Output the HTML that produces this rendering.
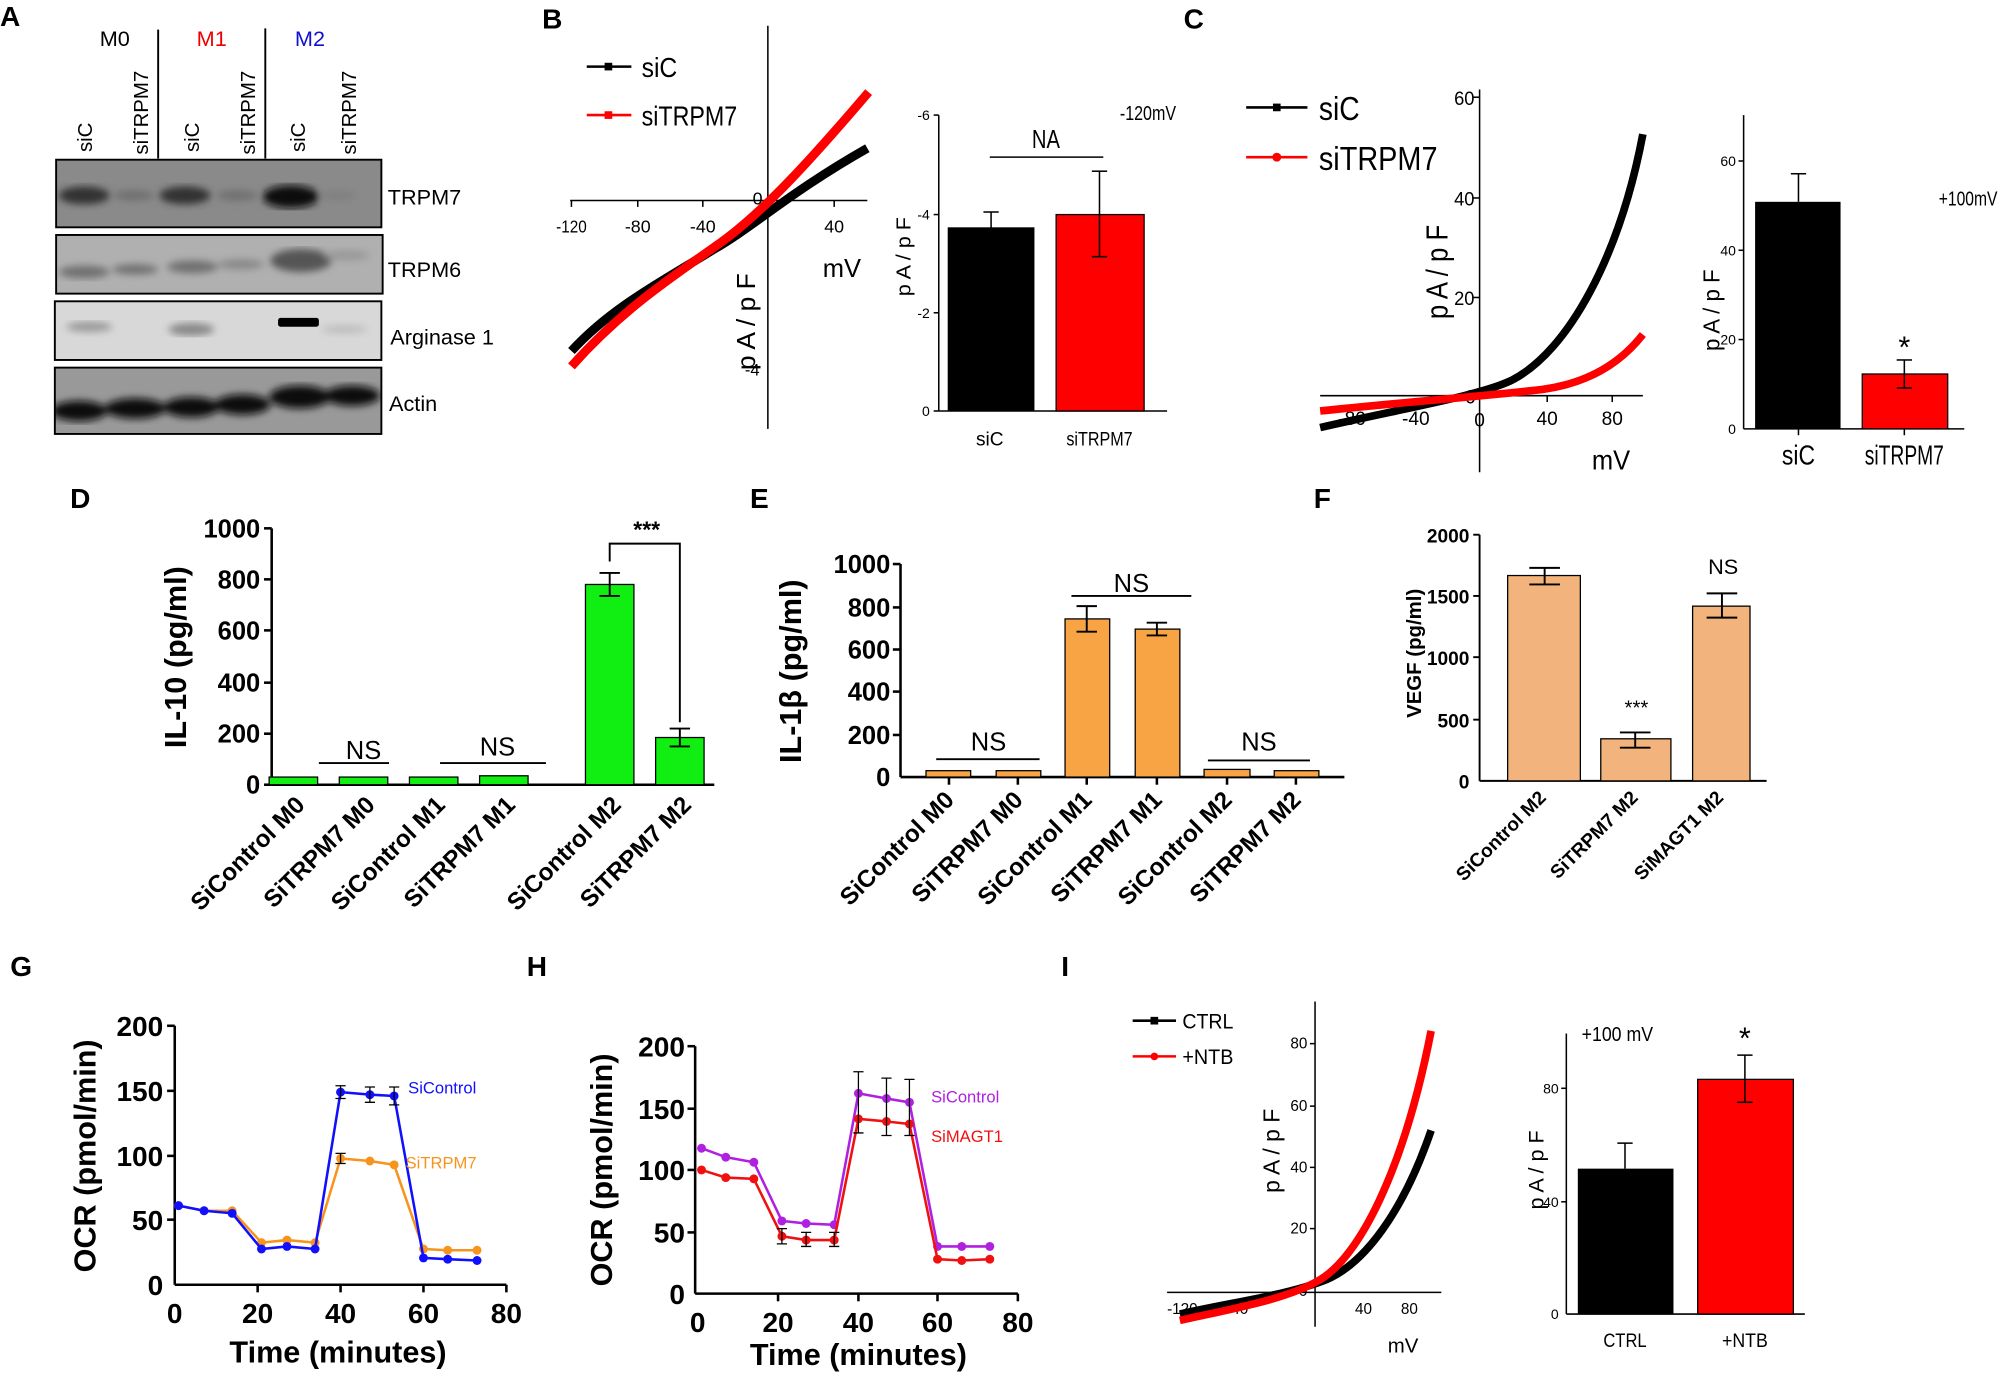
<!DOCTYPE html>
<html><head><meta charset="utf-8"><style>
html,body{margin:0;padding:0;background:#fff;}
svg{display:block;}
text{font-family:"Liberation Sans",Arial,sans-serif;}
.pl{font-size:22px;font-weight:bold;}
.b{font-weight:bold;}
</style></head><body>
<svg width="2000" height="1373" viewBox="0 0 1568 1076" xmlns="http://www.w3.org/2000/svg">
<rect width="1568" height="1076" fill="#fff"/>
<defs>
<filter id="bl"><feGaussianBlur stdDeviation="3"/></filter>
<clipPath id="c1"><rect x="44" y="125" width="255" height="53"/></clipPath>
<clipPath id="c2"><rect x="44" y="184" width="256" height="46"/></clipPath>
<clipPath id="c3"><rect x="43" y="236" width="256" height="46"/></clipPath>
<clipPath id="c4"><rect x="43" y="288" width="256" height="52"/></clipPath>
</defs>
<!-- Panel labels -->
<text class="pl" x="0" y="20">A</text>
<text class="pl" x="425" y="22">B</text>
<text class="pl" x="928" y="22">C</text>
<text class="pl" x="55" y="398">D</text>
<text class="pl" x="588" y="398">E</text>
<text class="pl" x="1030" y="398">F</text>
<text class="pl" x="8" y="765">G</text>
<text class="pl" x="413" y="765">H</text>
<text class="pl" x="832" y="765">I</text>

<!-- Panel A -->
<text x="90" y="36" font-size="17" text-anchor="middle">M0</text>
<text x="166" y="36" font-size="17" text-anchor="middle" fill="#e00">M1</text>
<text x="243" y="36" font-size="17" text-anchor="middle" fill="#1010d0">M2</text>
<line x1="124" y1="23" x2="124" y2="124" stroke="#000" stroke-width="1.5"/>
<line x1="208" y1="22" x2="208" y2="124" stroke="#000" stroke-width="1.5"/>
<g font-size="16">
<text transform="translate(72,119) rotate(-90)">siC</text>
<text transform="translate(116,121) rotate(-90)">siTRPM7</text>
<text transform="translate(156,119) rotate(-90)">siC</text>
<text transform="translate(200,121) rotate(-90)">siTRPM7</text>
<text transform="translate(239,119) rotate(-90)">siC</text>
<text transform="translate(279,121) rotate(-90)">siTRPM7</text>
</g>
<rect x="44" y="125" width="255" height="53" fill="#8a8a8a"/>
<g filter="url(#bl)" fill="#303030" clip-path="url(#c1)">
<ellipse cx="66" cy="153" rx="20" ry="7"/><ellipse cx="145" cy="153" rx="20" ry="7"/><ellipse cx="228" cy="154" rx="22" ry="9" fill="#111"/>
<ellipse cx="105" cy="153" rx="16" ry="4" fill="#707070"/><ellipse cx="186" cy="153" rx="16" ry="4" fill="#707070"/><ellipse cx="265" cy="153" rx="14" ry="4" fill="#808080"/>
</g>
<rect x="44" y="125" width="255" height="53" fill="none" stroke="#000" stroke-width="1.5"/>
<rect x="44" y="184" width="256" height="46" fill="#b0b0b0"/>
<g filter="url(#bl)" fill="#707070" clip-path="url(#c2)">
<ellipse cx="66" cy="213" rx="20" ry="5"/><ellipse cx="106" cy="211" rx="18" ry="4"/><ellipse cx="151" cy="209" rx="20" ry="5"/><ellipse cx="189" cy="207" rx="18" ry="4" fill="#888"/><ellipse cx="236" cy="204" rx="24" ry="9" fill="#555"/><ellipse cx="272" cy="200" rx="18" ry="4" fill="#999"/>
</g>
<rect x="44" y="184" width="256" height="46" fill="none" stroke="#000" stroke-width="1.5"/>
<rect x="43" y="236" width="256" height="46" fill="#d8d8d8"/>
<g filter="url(#bl)" fill="#999" clip-path="url(#c3)">
<ellipse cx="70" cy="256" rx="18" ry="4"/><ellipse cx="150" cy="258" rx="18" ry="5" fill="#888"/><ellipse cx="270" cy="258" rx="18" ry="3" fill="#bbb"/>
</g>
<rect x="218" y="249" width="32" height="7" fill="#000" rx="2"/>
<rect x="43" y="236" width="256" height="46" fill="none" stroke="#000" stroke-width="1.5"/>
<rect x="43" y="288" width="256" height="52" fill="#999"/>
<g filter="url(#bl)" fill="#111" clip-path="url(#c4)">
<ellipse cx="62" cy="322" rx="22" ry="8"/><ellipse cx="106" cy="320" rx="24" ry="8"/><ellipse cx="150" cy="319" rx="22" ry="8"/><ellipse cx="190" cy="317" rx="22" ry="8"/><ellipse cx="235" cy="311" rx="24" ry="9"/><ellipse cx="276" cy="310" rx="22" ry="8"/>
</g>
<rect x="43" y="288" width="256" height="52" fill="none" stroke="#000" stroke-width="1.5"/>
<g font-size="17">
<text x="304" y="160">TRPM7</text><text x="304" y="217">TRPM6</text><text x="306" y="270">Arginase 1</text><text x="305" y="322">Actin</text>
</g>

<!-- Panel B IV -->
<g stroke="#000" stroke-width="1.2" fill="none">
<line x1="447" y1="157" x2="680" y2="157"/><line x1="602" y1="20" x2="602" y2="336"/>
<line x1="448" y1="157" x2="448" y2="162"/><line x1="500" y1="157" x2="500" y2="162"/><line x1="551" y1="157" x2="551" y2="162"/><line x1="654" y1="157" x2="654" y2="162"/>
</g>
<g font-size="14" text-anchor="middle">
<text x="448" y="182" textLength="24" lengthAdjust="spacingAndGlyphs">-120</text><text x="500" y="182">-80</text><text x="551" y="182">-40</text><text x="594" y="160">0</text><text x="654" y="182">40</text>
</g>
<text x="584" y="294" font-size="13">-4</text>
<text x="645" y="217" font-size="20">mV</text>
<text transform="translate(592,290) rotate(-90)" font-size="20" textLength="76" lengthAdjust="spacingAndGlyphs">p A / p F</text>
<path d="M448,275 C480,240 520,220 560,195 C590,178 620,150 680,116" stroke="#000" stroke-width="7" fill="none"/>
<path d="M448,287 C490,240 530,215 565,190 C600,165 640,120 681,72" stroke="#f00" stroke-width="7" fill="none"/>
<line x1="460" y1="52" x2="495" y2="52" stroke="#000" stroke-width="2"/><rect x="474" y="49" width="6" height="6"/>
<text x="503" y="60" font-size="22" textLength="28" lengthAdjust="spacingAndGlyphs">siC</text>
<line x1="460" y1="90" x2="495" y2="90" stroke="#f00" stroke-width="2"/><rect x="474" y="87" width="6" height="6" fill="#f00"/>
<text x="503" y="98" font-size="22" textLength="75" lengthAdjust="spacingAndGlyphs">siTRPM7</text>
<!-- B bar -->
<g stroke="#000" stroke-width="1.2">
<line x1="736" y1="90" x2="736" y2="322"/><line x1="736" y1="322" x2="915" y2="322"/>
<line x1="732" y1="90" x2="736" y2="90"/><line x1="732" y1="168" x2="736" y2="168"/><line x1="732" y1="245" x2="736" y2="245"/><line x1="732" y1="322" x2="736" y2="322"/>
</g>
<g font-size="11" text-anchor="end"><text x="729" y="94">-6</text><text x="729" y="172">-4</text><text x="729" y="249">-2</text><text x="729" y="326">0</text></g>
<text transform="translate(714,232) rotate(-90)" font-size="16" textLength="62" lengthAdjust="spacingAndGlyphs">p A / p F</text>
<rect x="743" y="178" width="68" height="144" fill="#000"/>
<rect x="828" y="168" width="69" height="154" fill="#f00" stroke="#000"/>
<g stroke="#000" stroke-width="1.2"><line x1="777" y1="166" x2="777" y2="190"/><line x1="771" y1="166" x2="783" y2="166"/>
<line x1="862" y1="134" x2="862" y2="201"/><line x1="856" y1="134" x2="868" y2="134"/><line x1="856" y1="201" x2="868" y2="201"/>
<line x1="776" y1="123" x2="865" y2="123"/></g>
<text x="820" y="116" font-size="20" text-anchor="middle" textLength="22" lengthAdjust="spacingAndGlyphs">NA</text>
<text x="878" y="94" font-size="16" textLength="44" lengthAdjust="spacingAndGlyphs">-120mV</text>
<text x="776" y="349" font-size="15" text-anchor="middle">siC</text>
<text x="862" y="349" font-size="15" text-anchor="middle" textLength="52" lengthAdjust="spacingAndGlyphs">siTRPM7</text>

<!-- Panel C IV -->
<g stroke="#000" stroke-width="1.2">
<line x1="1035" y1="310" x2="1288" y2="310"/><line x1="1160" y1="70" x2="1160" y2="370"/>
<line x1="1155" y1="76" x2="1160" y2="76"/><line x1="1155" y1="155" x2="1160" y2="155"/><line x1="1155" y1="233" x2="1160" y2="233"/>
<line x1="1213" y1="310" x2="1213" y2="315"/><line x1="1264" y1="310" x2="1264" y2="315"/>
</g>
<g font-size="15" text-anchor="end"><text x="1156" y="82" textLength="16" lengthAdjust="spacingAndGlyphs">60</text><text x="1156" y="161" textLength="16" lengthAdjust="spacingAndGlyphs">40</text><text x="1156" y="239" textLength="16" lengthAdjust="spacingAndGlyphs">20</text><text x="1157" y="316">0</text></g>
<g font-size="15" text-anchor="middle"><text x="1213" y="333">40</text><text x="1264" y="333">80</text><text x="1160" y="334">0</text><text x="1060" y="333">-80</text><text x="1110" y="333">-40</text></g>
<text x="1248" y="368" font-size="22" textLength="30" lengthAdjust="spacingAndGlyphs">mV</text>
<text transform="translate(1135,250) rotate(-90)" font-size="24" textLength="74" lengthAdjust="spacingAndGlyphs">p A / p F</text>
<path d="M1035,335 C1100,320 1160,310 1185,298 C1230,275 1270,200 1288,105" stroke="#000" stroke-width="6" fill="none"/>
<path d="M1035,322 C1100,315 1170,310 1210,305 C1245,300 1270,285 1288,262" stroke="#f00" stroke-width="6" fill="none"/>
<line x1="977" y1="84" x2="1025" y2="84" stroke="#000" stroke-width="2"/><rect x="998" y="81" width="6" height="6"/>
<text x="1034" y="94" font-size="26" textLength="32" lengthAdjust="spacingAndGlyphs">siC</text>
<line x1="977" y1="123" x2="1025" y2="123" stroke="#f00" stroke-width="2"/><circle cx="1001" cy="123" r="3.5" fill="#f00"/>
<text x="1034" y="133" font-size="26" textLength="93" lengthAdjust="spacingAndGlyphs">siTRPM7</text>
<!-- C bar -->
<g stroke="#000" stroke-width="1.2">
<line x1="1367" y1="90" x2="1367" y2="336"/><line x1="1367" y1="336" x2="1540" y2="336"/>
<line x1="1363" y1="126" x2="1367" y2="126"/><line x1="1363" y1="196" x2="1367" y2="196"/><line x1="1363" y1="266" x2="1367" y2="266"/>
<line x1="1410" y1="336" x2="1410" y2="341"/><line x1="1493" y1="336" x2="1493" y2="341"/>
</g>
<g font-size="11" text-anchor="end"><text x="1361" y="130">60</text><text x="1361" y="200">40</text><text x="1361" y="270">20</text><text x="1361" y="340">0</text></g>
<text transform="translate(1348,275) rotate(-90)" font-size="18" textLength="64" lengthAdjust="spacingAndGlyphs">p A / p F</text>
<rect x="1376" y="158" width="67" height="178" fill="#000"/>
<rect x="1460" y="293" width="67" height="43" fill="#f00" stroke="#000"/>
<g stroke="#000" stroke-width="1.2"><line x1="1410" y1="136" x2="1410" y2="158"/><line x1="1404" y1="136" x2="1416" y2="136"/>
<line x1="1493" y1="282" x2="1493" y2="304"/><line x1="1487" y1="282" x2="1499" y2="282"/><line x1="1487" y1="304" x2="1499" y2="304"/></g>
<text x="1493" y="280" font-size="24" text-anchor="middle">*</text>
<text x="1520" y="161" font-size="16" textLength="46" lengthAdjust="spacingAndGlyphs">+100mV</text>
<text x="1410" y="364" font-size="22" text-anchor="middle" textLength="26" lengthAdjust="spacingAndGlyphs">siC</text>
<text x="1493" y="364" font-size="22" text-anchor="middle" textLength="62" lengthAdjust="spacingAndGlyphs">siTRPM7</text>

<!-- Panel D -->
<g stroke="#000" stroke-width="2">
<line x1="213" y1="414" x2="213" y2="615"/><line x1="213" y1="615" x2="560" y2="615"/>
<line x1="207" y1="414" x2="213" y2="414"/><line x1="207" y1="454" x2="213" y2="454"/><line x1="207" y1="494" x2="213" y2="494"/><line x1="207" y1="535" x2="213" y2="535"/><line x1="207" y1="575" x2="213" y2="575"/><line x1="207" y1="615" x2="213" y2="615"/>
</g>
<g font-size="20" class="b" text-anchor="end"><text x="204" y="421">1000</text><text x="204" y="461">800</text><text x="204" y="542">400</text><text x="204" y="501">600</text><text x="204" y="582">200</text><text x="204" y="622">0</text></g>
<text transform="translate(146,515) rotate(-90)" font-size="24" class="b" text-anchor="middle">IL-10 (pg/ml)</text>
<g fill="#11ee11" stroke="#000" stroke-width="1">
<rect x="211" y="609" width="38" height="6"/><rect x="266" y="609" width="38" height="6"/><rect x="321" y="609" width="38" height="6"/><rect x="376" y="608" width="38" height="7"/><rect x="459" y="458" width="38" height="157"/><rect x="514" y="578" width="38" height="37"/>
</g>
<g stroke="#000" stroke-width="1.5" fill="none">
<path d="M470,449 H486 M478,449 V467 M470,467 H486"/><path d="M525,571 H541 M533,571 V585 M525,585 H541"/>
<path d="M478,440 V426 H533 V566"/>
<line x1="250" y1="598" x2="305" y2="598"/><line x1="345" y1="598" x2="428" y2="598"/>
</g>
<text x="507" y="421" font-size="18" class="b" text-anchor="middle">***</text>
<text x="285" y="595" font-size="20" text-anchor="middle">NS</text>
<text x="390" y="592" font-size="20" text-anchor="middle">NS</text>
<g font-size="19" class="b" text-anchor="end">
<text transform="translate(240,632) rotate(-45)">SiControl M0</text>
<text transform="translate(295,632) rotate(-45)">SiTRPM7 M0</text>
<text transform="translate(350,632) rotate(-45)">SiControl M1</text>
<text transform="translate(405,632) rotate(-45)">SiTRPM7 M1</text>
<text transform="translate(488,632) rotate(-45)">SiControl M2</text>
<text transform="translate(543,632) rotate(-45)">SiTRPM7 M2</text>
</g>

<!-- Panel E -->
<g stroke="#000" stroke-width="2">
<line x1="706" y1="442" x2="706" y2="609"/><line x1="706" y1="609" x2="1054" y2="609"/>
<line x1="700" y1="442" x2="706" y2="442"/><line x1="700" y1="476" x2="706" y2="476"/><line x1="700" y1="509" x2="706" y2="509"/><line x1="700" y1="542" x2="706" y2="542"/><line x1="700" y1="576" x2="706" y2="576"/>
<line x1="744" y1="609" x2="744" y2="615"/><line x1="798" y1="609" x2="798" y2="615"/><line x1="852" y1="609" x2="852" y2="615"/><line x1="907" y1="609" x2="907" y2="615"/><line x1="962" y1="609" x2="962" y2="615"/><line x1="1016" y1="609" x2="1016" y2="615"/>
</g>
<g font-size="20" class="b" text-anchor="end"><text x="698" y="449">1000</text><text x="698" y="483">800</text><text x="698" y="516">600</text><text x="698" y="549">400</text><text x="698" y="583">200</text><text x="698" y="616">0</text></g>
<text transform="translate(628,526) rotate(-90)" font-size="24" class="b" text-anchor="middle">IL-1β (pg/ml)</text>
<g fill="#f8a444" stroke="#000" stroke-width="1">
<rect x="726" y="604" width="35" height="5"/><rect x="781" y="604" width="35" height="5"/><rect x="835" y="485" width="35" height="124"/><rect x="890" y="493" width="35" height="116"/><rect x="944" y="603" width="36" height="6"/><rect x="999" y="604" width="35" height="5"/>
</g>
<g stroke="#000" stroke-width="1.5" fill="none">
<path d="M844,475 H860 M852,475 V495 M844,495 H860"/><path d="M899,488 H915 M907,488 V498 M899,498 H915"/>
<line x1="840" y1="467" x2="934" y2="467"/><line x1="734" y1="595" x2="815" y2="595"/><line x1="947" y1="596" x2="1027" y2="596"/>
</g>
<text x="887" y="464" font-size="20" text-anchor="middle">NS</text>
<text x="775" y="588" font-size="20" text-anchor="middle">NS</text>
<text x="987" y="588" font-size="20" text-anchor="middle">NS</text>
<g font-size="19" class="b" text-anchor="end">
<text transform="translate(749,628) rotate(-45)">SiControl M0</text>
<text transform="translate(803,628) rotate(-45)">SiTRPM7 M0</text>
<text transform="translate(857,628) rotate(-45)">SiControl M1</text>
<text transform="translate(912,628) rotate(-45)">SiTRPM7 M1</text>
<text transform="translate(967,628) rotate(-45)">SiControl M2</text>
<text transform="translate(1021,628) rotate(-45)">SiTRPM7 M2</text>
</g>

<!-- Panel F -->
<g stroke="#000" stroke-width="1.5">
<line x1="1160" y1="419" x2="1160" y2="612"/><line x1="1160" y1="612" x2="1385" y2="612"/>
<line x1="1155" y1="419" x2="1160" y2="419"/><line x1="1155" y1="467" x2="1160" y2="467"/><line x1="1155" y1="515" x2="1160" y2="515"/><line x1="1155" y1="564" x2="1160" y2="564"/>
</g>
<g font-size="15" class="b" text-anchor="end"><text x="1152" y="425">2000</text><text x="1152" y="473">1500</text><text x="1152" y="521">1000</text><text x="1152" y="570">500</text><text x="1152" y="618">0</text></g>
<text transform="translate(1114,512) rotate(-90)" font-size="16" class="b" text-anchor="middle">VEGF (pg/ml)</text>
<g fill="#f2b47c" stroke="#000" stroke-width="1">
<rect x="1182" y="451" width="57" height="161"/><rect x="1255" y="579" width="55" height="33"/><rect x="1327" y="475" width="45" height="137"/>
</g>
<g stroke="#000" stroke-width="1.5" fill="none">
<path d="M1199,445 H1223 M1211,445 V458 M1199,458 H1223"/><path d="M1270,574 H1294 M1282,574 V586 M1270,586 H1294"/><path d="M1338,465 H1362 M1350,465 V484 M1338,484 H1362"/>
</g>
<text x="1283" y="560" font-size="16" text-anchor="middle">***</text>
<text x="1351" y="450" font-size="17" text-anchor="middle">NS</text>
<g font-size="15" class="b" text-anchor="end">
<text transform="translate(1213,626) rotate(-45)">SiControl M2</text>
<text transform="translate(1285,626) rotate(-45)">SiTRPM7 M2</text>
<text transform="translate(1352,626) rotate(-45)">SiMAGT1 M2</text>
</g>

<!-- Panel G -->
<g stroke="#000" stroke-width="2">
<line x1="137" y1="804" x2="137" y2="1007"/><line x1="137" y1="1007" x2="397" y2="1007"/>
<line x1="131" y1="804" x2="137" y2="804"/><line x1="131" y1="855" x2="137" y2="855"/><line x1="131" y1="906" x2="137" y2="906"/><line x1="131" y1="956" x2="137" y2="956"/>
<line x1="202" y1="1007" x2="202" y2="1013"/><line x1="267" y1="1007" x2="267" y2="1013"/><line x1="332" y1="1007" x2="332" y2="1013"/><line x1="397" y1="1007" x2="397" y2="1013"/>
</g>
<g font-size="22" class="b" text-anchor="end"><text x="128" y="812">200</text><text x="128" y="863">150</text><text x="128" y="914">100</text><text x="128" y="964">50</text><text x="128" y="1015">0</text></g>
<g font-size="22" class="b" text-anchor="middle"><text x="137" y="1037">0</text><text x="202" y="1037">20</text><text x="267" y="1037">40</text><text x="332" y="1037">60</text><text x="397" y="1037">80</text></g>
<text x="265" y="1068" font-size="24" class="b" text-anchor="middle">Time (minutes)</text>
<text transform="translate(75,906) rotate(-90)" font-size="24" class="b" text-anchor="middle">OCR (pmol/min)</text>
<polyline points="140,945 160,949 182,949 205,974 225,972 247,974 267,908 290,910 309,913 332,979 351,980 374,980" fill="none" stroke="#f7941d" stroke-width="2"/>
<g fill="#f7941d"><circle cx="140" cy="945" r="3.5"/><circle cx="160" cy="949" r="3.5"/><circle cx="182" cy="949" r="3.5"/><circle cx="205" cy="974" r="3.5"/><circle cx="225" cy="972" r="3.5"/><circle cx="247" cy="974" r="3.5"/><circle cx="267" cy="908" r="3.5"/><circle cx="290" cy="910" r="3.5"/><circle cx="309" cy="913" r="3.5"/><circle cx="332" cy="979" r="3.5"/><circle cx="351" cy="980" r="3.5"/><circle cx="374" cy="980" r="3.5"/></g>
<polyline points="140,945 160,949 182,951 205,979 225,977 247,979 267,856 290,858 309,859 332,986 351,987 374,988" fill="none" stroke="#1010ff" stroke-width="2"/>
<g fill="#1010ff"><circle cx="140" cy="945" r="3.5"/><circle cx="160" cy="949" r="3.5"/><circle cx="182" cy="951" r="3.5"/><circle cx="205" cy="979" r="3.5"/><circle cx="225" cy="977" r="3.5"/><circle cx="247" cy="979" r="3.5"/><circle cx="267" cy="856" r="3.5"/><circle cx="290" cy="858" r="3.5"/><circle cx="309" cy="859" r="3.5"/><circle cx="332" cy="986" r="3.5"/><circle cx="351" cy="987" r="3.5"/><circle cx="374" cy="988" r="3.5"/></g>
<g stroke="#000" stroke-width="1"><path d="M263,851 H271 M267,851 V861 M263,861 H271"/><path d="M286,852 H294 M290,852 V864 M286,864 H294"/><path d="M305,852 H313 M309,852 V866 M305,866 H313"/><path d="M263,904 H271 M267,904 V912 M263,912 H271"/></g>
<text x="320" y="857" font-size="13" fill="#1010ff">SiControl</text>
<text x="318" y="916" font-size="13" fill="#f7941d">SiTRPM7</text>

<!-- Panel H -->
<g stroke="#000" stroke-width="2">
<line x1="545" y1="820" x2="545" y2="1014"/><line x1="545" y1="1014" x2="798" y2="1014"/>
<line x1="539" y1="820" x2="545" y2="820"/><line x1="539" y1="869" x2="545" y2="869"/><line x1="539" y1="917" x2="545" y2="917"/><line x1="539" y1="966" x2="545" y2="966"/>
<line x1="610" y1="1014" x2="610" y2="1020"/><line x1="673" y1="1014" x2="673" y2="1020"/><line x1="735" y1="1014" x2="735" y2="1020"/><line x1="798" y1="1014" x2="798" y2="1020"/>
</g>
<g font-size="22" class="b" text-anchor="end"><text x="537" y="828">200</text><text x="537" y="877">150</text><text x="537" y="925">100</text><text x="537" y="974">50</text><text x="537" y="1022">0</text></g>
<g font-size="22" class="b" text-anchor="middle"><text x="547" y="1044">0</text><text x="610" y="1044">20</text><text x="673" y="1044">40</text><text x="735" y="1044">60</text><text x="798" y="1044">80</text></g>
<text x="673" y="1070" font-size="24" class="b" text-anchor="middle">Time (minutes)</text>
<text transform="translate(480,917) rotate(-90)" font-size="24" class="b" text-anchor="middle">OCR (pmol/min)</text>
<polyline points="550,900 569,907 591,911 613,957 632,959 654,960 673,857 695,861 713,864 735,977 754,977 776,977" fill="none" stroke="#b020e0" stroke-width="2"/>
<g fill="#b020e0"><circle cx="550" cy="900" r="3.5"/><circle cx="569" cy="907" r="3.5"/><circle cx="591" cy="911" r="3.5"/><circle cx="613" cy="957" r="3.5"/><circle cx="632" cy="959" r="3.5"/><circle cx="654" cy="960" r="3.5"/><circle cx="673" cy="857" r="3.5"/><circle cx="695" cy="861" r="3.5"/><circle cx="713" cy="864" r="3.5"/><circle cx="735" cy="977" r="3.5"/><circle cx="754" cy="977" r="3.5"/><circle cx="776" cy="977" r="3.5"/></g>
<polyline points="550,917 569,923 591,924 613,969 632,972 654,972 673,877 695,879 713,881 735,987 754,988 776,987" fill="none" stroke="#f01010" stroke-width="2"/>
<g fill="#f01010"><circle cx="550" cy="917" r="3.5"/><circle cx="569" cy="923" r="3.5"/><circle cx="591" cy="924" r="3.5"/><circle cx="613" cy="969" r="3.5"/><circle cx="632" cy="972" r="3.5"/><circle cx="654" cy="972" r="3.5"/><circle cx="673" cy="877" r="3.5"/><circle cx="695" cy="879" r="3.5"/><circle cx="713" cy="881" r="3.5"/><circle cx="735" cy="987" r="3.5"/><circle cx="754" cy="988" r="3.5"/><circle cx="776" cy="987" r="3.5"/></g>
<g stroke="#000" stroke-width="1"><path d="M669,840 H677 M673,840 V888 M669,888 H677"/><path d="M691,845 H699 M695,845 V890 M691,890 H699"/><path d="M709,846 H717 M713,846 V890 M709,890 H717"/><path d="M609,963 H617 M613,963 V975 M609,975 H617"/><path d="M628,966 H636 M632,966 V977 M628,977 H636"/><path d="M650,966 H658 M654,966 V977 M650,977 H658"/></g>
<text x="730" y="864" font-size="13" fill="#b020e0">SiControl</text>
<text x="730" y="895" font-size="13" fill="#f01010">SiMAGT1</text>

<!-- Panel I IV -->
<g stroke="#000" stroke-width="1.2">
<line x1="915" y1="1013" x2="1130" y2="1013"/><line x1="1031" y1="785" x2="1031" y2="1040"/>
<line x1="1027" y1="818" x2="1031" y2="818"/><line x1="1027" y1="867" x2="1031" y2="867"/><line x1="1027" y1="915" x2="1031" y2="915"/><line x1="1027" y1="963" x2="1031" y2="963"/>
</g>
<g font-size="12" text-anchor="end"><text x="1025" y="822">80</text><text x="1025" y="871">60</text><text x="1025" y="919">40</text><text x="1025" y="967">20</text><text x="1025" y="1016">0</text></g>
<g font-size="12" text-anchor="middle"><text x="1069" y="1030">40</text><text x="1105" y="1030">80</text><text x="927" y="1030">-120</text><text x="970" y="1030">-40</text></g>
<text x="1088" y="1060" font-size="16">mV</text>
<text transform="translate(1003,935) rotate(-90)" font-size="18" textLength="66" lengthAdjust="spacingAndGlyphs">p A / p F</text>
<path d="M925,1030 C970,1020 1010,1015 1040,1003 C1070,990 1100,950 1122,886" stroke="#000" stroke-width="6" fill="none"/>
<path d="M925,1035 C970,1025 1010,1018 1035,1003 C1065,985 1100,920 1122,808" stroke="#f00" stroke-width="6" fill="none"/>
<line x1="888" y1="800" x2="922" y2="800" stroke="#000" stroke-width="2"/><rect x="902" y="797" width="6" height="6"/>
<text x="927" y="806" font-size="17" textLength="40" lengthAdjust="spacingAndGlyphs">CTRL</text>
<line x1="888" y1="828" x2="922" y2="828" stroke="#f00" stroke-width="2"/><circle cx="905" cy="828" r="3" fill="#f00"/>
<text x="927" y="834" font-size="17" textLength="40" lengthAdjust="spacingAndGlyphs">+NTB</text>
<!-- I bar -->
<g stroke="#000" stroke-width="1.2">
<line x1="1228" y1="810" x2="1228" y2="1030"/><line x1="1228" y1="1030" x2="1415" y2="1030"/>
<line x1="1224" y1="853" x2="1228" y2="853"/><line x1="1224" y1="942" x2="1228" y2="942"/>
</g>
<g font-size="11" text-anchor="end"><text x="1222" y="857">80</text><text x="1222" y="946">40</text><text x="1222" y="1034">0</text></g>
<text transform="translate(1210,948) rotate(-90)" font-size="17" textLength="62" lengthAdjust="spacingAndGlyphs">p A / p F</text>
<rect x="1237" y="916" width="75" height="114" fill="#000"/>
<rect x="1331" y="846" width="75" height="184" fill="#f00" stroke="#000"/>
<g stroke="#000" stroke-width="1.2"><line x1="1274" y1="896" x2="1274" y2="916"/><line x1="1268" y1="896" x2="1280" y2="896"/>
<line x1="1368" y1="827" x2="1368" y2="864"/><line x1="1362" y1="827" x2="1374" y2="827"/><line x1="1362" y1="864" x2="1374" y2="864"/></g>
<text x="1368" y="822" font-size="24" text-anchor="middle">*</text>
<text x="1240" y="816" font-size="16" textLength="56" lengthAdjust="spacingAndGlyphs">+100 mV</text>
<text x="1274" y="1056" font-size="15" text-anchor="middle" textLength="34" lengthAdjust="spacingAndGlyphs">CTRL</text>
<text x="1368" y="1056" font-size="15" text-anchor="middle" textLength="36" lengthAdjust="spacingAndGlyphs">+NTB</text>
</svg>
</body></html>
